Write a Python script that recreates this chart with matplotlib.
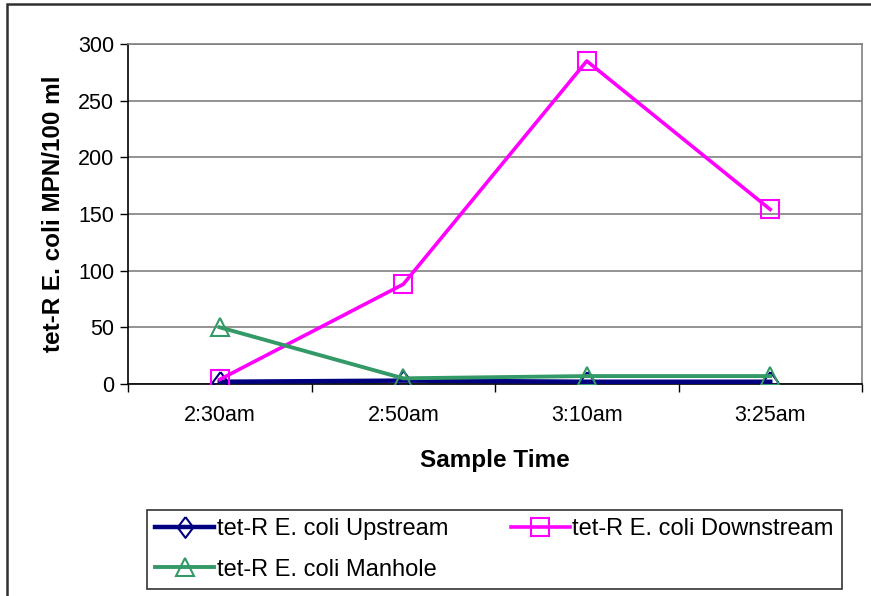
import matplotlib
matplotlib.use("Agg")
import matplotlib.pyplot as plt
from matplotlib.patches import Rectangle

plt.rcParams['font.family'] = ['Liberation Sans', 'DejaVu Sans']

times = ["2:30am", "2:50am", "3:10am", "3:25am"]
upstream = [2, 3, 2, 2]
downstream = [4, 88, 285, 154]
manhole = [50, 5, 7, 7]

W, H = 871, 596
fig = plt.figure(figsize=(W / 100, H / 100), dpi=100)
ax = fig.add_axes([128 / W, 1 - 384 / H, (862 - 128) / W, (384 - 44) / H])

# slightly tall diamond, like the spreadsheet marker
diamond = [(0, 1), (0.75, 0), (0, -1), (-0.75, 0), (0, 1)]

x = list(range(len(times)))
l_up, = ax.plot(x, upstream, color="#000080", lw=3.2, marker=diamond, ms=15,
                mfc="none", mew=1.5, label="tet-R E. coli Upstream", zorder=3)
l_down, = ax.plot(x, downstream, color="#FF00FF", lw=2.6, marker="s", ms=13.5,
                  mfc="none", mew=1.5, label="tet-R E. coli Downstream", zorder=3)
l_man, = ax.plot(x, manhole, color="#339966", lw=2.8, marker="^", ms=13,
                 mfc="none", mew=1.5, label="tet-R E. coli Manhole", zorder=3)

ax.set_xlim(-0.5, len(times) - 0.5)
ax.set_ylim(0, 300)
ax.set_yticks(range(0, 301, 50))
ax.yaxis.grid(True, color="#808080", lw=1.2)
ax.set_axisbelow(True)

# category boundaries carry the tick marks, labels sit at the centres
ax.set_xticks([i - 0.5 for i in range(len(times) + 1)])
ax.set_xticklabels([])
ax.set_xticks(x, minor=True)
ax.set_xticklabels(times, minor=True)
ax.tick_params(axis="x", which="major", length=6, width=1, direction="out")
ax.tick_params(axis="x", which="minor", length=0, pad=15, labelsize=15.5)
ax.tick_params(axis="y", length=6, width=1, direction="out", labelsize=15.5, pad=4)

for side in ("top", "right"):
    ax.spines[side].set_color("#808080")
    ax.spines[side].set_linewidth(1.2)
for side in ("left", "bottom"):
    ax.spines[side].set_linewidth(1.2)

ax.set_xlabel("Sample Time", fontsize=17.5, fontweight="bold", labelpad=17)
ax.set_ylabel("tet-R E. coli MPN/100 ml", fontsize=17.5, fontweight="bold", labelpad=9.5)

# column-major fill: Upstream / Manhole in the first column, Downstream in the second
leg = fig.legend([l_up, l_man, l_down],
                 [l_up.get_label(), l_man.get_label(), l_down.get_label()],
                 loc="lower left", ncol=2, mode="expand",
                 bbox_to_anchor=(147 / W, 1 - 589 / H, (842 - 147) / W, (589 - 506) / H),
                 fontsize=17, frameon=True, fancybox=False, edgecolor="black",
                 handlelength=2.5, handletextpad=0.1, labelspacing=0.8,
                 borderaxespad=0, borderpad=0.35)
leg.get_frame().set_linewidth(1.2)

fig.add_artist(Rectangle((7 / W, -0.1), 1.2, 1 - 4 / H + 0.1, transform=fig.transFigure,
                         fill=False, edgecolor="#303030", lw=1.8))

fig.savefig("out.png", dpi=100)
